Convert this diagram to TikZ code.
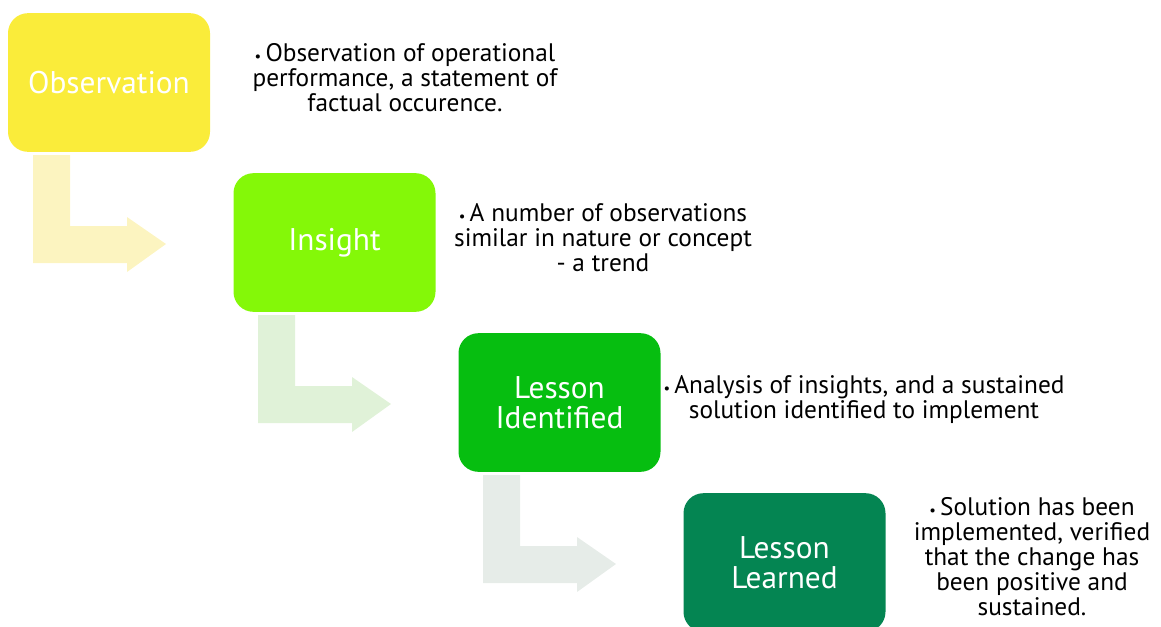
\documentclass[tikz,border=0pt]{standalone}
\usepackage{fontspec}
\setmainfont{PT Sans}
\definecolor{obsyellow}{RGB}{250,236,58}
\definecolor{insgreen}{RGB}{132,248,8}
\definecolor{idgreen}{RGB}{6,190,16}
\definecolor{lrngreen}{RGB}{4,133,82}
\definecolor{arrowA}{RGB}{252,244,192}
\definecolor{arrowB}{RGB}{224,242,216}
\definecolor{arrowC}{RGB}{230,236,232}
\newcommand{\dotmark}{{\fontsize{11}{11}\selectfont•}\,}
\begin{document}
\begin{tikzpicture}[x=.75pt,y=-.75pt,
	stage/.style={rounded corners=15pt,minimum width=151.5pt,minimum height=104pt,inner sep=0pt,
		text=white,align=center,font=\fontsize{23.5}{22.5}\selectfont},
	note/.style={align=center,inner sep=0pt,font=\fontsize{19}{18.75}\selectfont}]
	\useasboundingbox (0,0) rectangle (1161,626);
	% bent arrows between the stages
	\foreach \c[count=\i from 0] in {arrowA,arrowB,arrowC}
	\fill[\c,shift={(225*\i,160*\i)}]
	(33,155)--(70,155)--(70,226)--(127,226)--(127,217)--(166,244)
	--(127,272)--(127,263)--(33,263)--cycle;
	% stages
	\node[stage,fill=obsyellow] (obs) at (109,82.5) {Observation};
	\node[stage,fill=insgreen] (ins) at (334.5,242.5) {Insight};
	\node[stage,fill=idgreen] (lid) at (559.5,402.5) {Lesson\\Identified};
	\node[stage,fill=lrngreen] (lrn) at (784.5,562.5) {Lesson\\Learned};
	% descriptions
	\node[note] (obsnote) at (405,78) {\dotmark Observation of operational\\performance, a statement of\\factual occurence.};
	\node[note] (insnote) at (603,238) {\dotmark A number of observations\\similar in nature or concept\\- a trend};
	\node[note] (lidnote) at (864,400) {\dotmark Analysis of insights, and a sustained\\solution identified to implement};
	\node[note] (lrnnote) at (1032,557) {\dotmark Solution has been\\implemented, verified\\that the change has\\been positive and\\sustained.};
\end{tikzpicture}
\end{document}
